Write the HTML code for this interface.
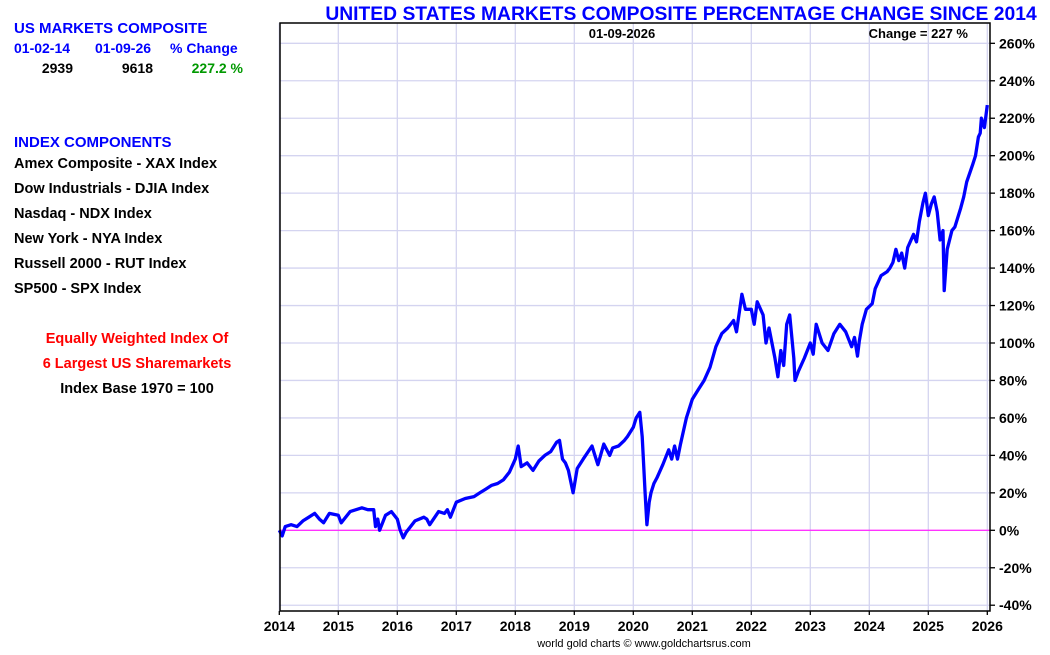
<!DOCTYPE html>
<html><head><meta charset="utf-8"><style>
body{margin:0;background:#fff;font-family:"Liberation Sans",Arial,sans-serif;}
svg text{font-family:"Liberation Sans",Arial,sans-serif;font-weight:bold;}
</style></head><body>
<svg id="chart" width="1050" height="650" xmlns="http://www.w3.org/2000/svg">
<g>
<text x="14" y="33" font-size="15" fill="#0000ff">US MARKETS COMPOSITE</text>
<text x="14" y="53" font-size="14" fill="#0000ff">01-02-14</text>
<text x="95" y="53" font-size="14" fill="#0000ff">01-09-26</text>
<text x="170" y="53" font-size="14" fill="#0000ff">% Change</text>
<text x="73" y="73" font-size="14" fill="#000" text-anchor="end">2939</text>
<text x="153" y="73" font-size="14" fill="#000" text-anchor="end">9618</text>
<text x="243" y="73" font-size="14" fill="#009900" text-anchor="end">227.2 %</text>
<text x="14" y="147" font-size="15" fill="#0000ff">INDEX COMPONENTS</text>
<text x="14" y="168" font-size="14.5" fill="#000">Amex Composite - XAX Index</text>
<text x="14" y="193" font-size="14.5" fill="#000">Dow Industrials - DJIA Index</text>
<text x="14" y="218" font-size="14.5" fill="#000">Nasdaq - NDX Index</text>
<text x="14" y="243" font-size="14.5" fill="#000">New York - NYA Index</text>
<text x="14" y="268" font-size="14.5" fill="#000">Russell 2000 - RUT Index</text>
<text x="14" y="293" font-size="14.5" fill="#000">SP500 - SPX Index</text>
<text x="137" y="343" font-size="14.5" fill="#ff0000" text-anchor="middle">Equally Weighted Index Of</text>
<text x="137" y="368" font-size="14.5" fill="#ff0000" text-anchor="middle">6 Largest US Sharemarkets</text>
<text x="137" y="393" font-size="14.5" fill="#000" text-anchor="middle">Index Base 1970 = 100</text>
</g>
<text x="681" y="20" font-size="19.3" fill="#0000ff" text-anchor="middle">UNITED STATES MARKETS COMPOSITE PERCENTAGE CHANGE SINCE 2014</text>
<g id="grid"></g>
<line x1="280" y1="530.3" x2="990" y2="530.3" stroke="#ff33ff" stroke-width="1.3"/>
<g id="series"></g>
<rect x="280" y="23" width="710" height="588" fill="none" stroke="#000" stroke-width="1.5"/>
<text x="622" y="38" font-size="13" fill="#000" text-anchor="middle">01-09-2026</text>
<text x="968" y="38" font-size="13" fill="#000" text-anchor="end">Change = 227 %</text>
<g id="axes"></g>
<text x="644" y="647" font-size="11" fill="#000" text-anchor="middle" style="font-weight:normal">world gold charts © www.goldchartsrus.com</text>
</svg>
<script>
const years=[2014,2015,2016,2017,2018,2019,2020,2021,2022,2023,2024,2025,2026];
const yTicks=[-40,-20,0,20,40,60,80,100,120,140,160,180,200,220,240,260];
const dates=[2014.0,2014.05,2014.1,2014.2,2014.3,2014.4,2014.5,2014.6,2014.68,2014.75,2014.85,2015.0,2015.05,2015.2,2015.3,2015.4,2015.5,2015.6,2015.63,2015.67,2015.7,2015.8,2015.9,2016.0,2016.05,2016.1,2016.15,2016.3,2016.45,2016.5,2016.55,2016.7,2016.8,2016.85,2016.9,2017.0,2017.15,2017.3,2017.4,2017.5,2017.6,2017.7,2017.8,2017.9,2018.0,2018.05,2018.1,2018.2,2018.3,2018.4,2018.5,2018.6,2018.7,2018.75,2018.8,2018.85,2018.9,2018.98,2019.05,2019.15,2019.3,2019.35,2019.4,2019.5,2019.6,2019.65,2019.75,2019.85,2019.9,2020.0,2020.05,2020.11,2020.15,2020.2,2020.23,2020.27,2020.3,2020.35,2020.4,2020.5,2020.6,2020.65,2020.7,2020.75,2020.8,2020.9,2021.0,2021.1,2021.2,2021.3,2021.4,2021.5,2021.6,2021.7,2021.75,2021.84,2021.9,2022.0,2022.05,2022.1,2022.2,2022.25,2022.3,2022.4,2022.45,2022.5,2022.55,2022.6,2022.65,2022.72,2022.74,2022.8,2022.9,2023.0,2023.05,2023.1,2023.2,2023.3,2023.4,2023.5,2023.6,2023.7,2023.75,2023.8,2023.83,2023.88,2023.95,2024.05,2024.1,2024.2,2024.3,2024.35,2024.4,2024.45,2024.5,2024.55,2024.6,2024.65,2024.75,2024.8,2024.85,2024.91,2024.95,2025.0,2025.05,2025.1,2025.15,2025.2,2025.25,2025.27,2025.32,2025.4,2025.45,2025.55,2025.6,2025.65,2025.75,2025.8,2025.85,2025.88,2025.9,2025.95,2026.0];
const values=[0,-3,2,3,2,5,7,9,6,4,9,8,4,10,11,12,11,11,2,6,0,8,10,6,0,-4,-1,5,7,6,3,10,9,11,7,15,17,18,20,22,24,25,27,31,38,45,34,36,32,37,40,42,47,48,38,36,32,20,33,38,45,40,35,46,40,44,45,48,50,55,60,63,50,20,3,15,20,25,28,35,43,38,45,38,46,60,70,75,80,87,98,105,108,112,106,126,118,118,110,122,115,100,108,92,82,96,88,110,115,92,80,85,92,100,94,110,100,96,105,110,106,98,103,93,101,110,118,121,129,136,138,140,143,150,144,148,140,151,158,154,165,175,180,168,174,178,170,155,160,128,150,160,162,172,178,186,195,200,210,212,220,215,227];
const X=y=>279.3+(y-2014)*59;
const Y=v=>530.3-v*1.873;
const NS="http://www.w3.org/2000/svg";
const grid=document.getElementById('grid'),axes=document.getElementById('axes'),series=document.getElementById('series');
function mk(tag,attrs,parent){const e=document.createElementNS(NS,tag);for(const k in attrs)e.setAttribute(k,attrs[k]);parent.appendChild(e);return e;}
years.forEach(yr=>{
  const gl=mk('line',{x1:X(yr),x2:X(yr),y1:23,y2:611,stroke:'#d4d4f0','stroke-width':1.3},grid);
  
  
  const tk=mk('line',{x1:X(yr),x2:X(yr),y1:611,y2:615,stroke:'#000','stroke-width':1.3},axes);
  
  
  const t=mk('text',{x:X(yr),y:631,'font-size':14,'text-anchor':'middle',fill:'#000'},axes);
  t.textContent=yr;
  
  
});
yTicks.forEach(v=>{
  if(v!==0){const gl=mk('line',{x1:280,x2:990,y1:Y(v),y2:Y(v),stroke:'#d4d4f0','stroke-width':1.3},grid);
  
  }
  const tk=mk('line',{x1:990,x2:995,y1:Y(v),y2:Y(v),stroke:'#000','stroke-width':1.3},axes);
  
  
  const t=mk('text',{x:999,y:Y(v)+5,'font-size':14,fill:'#000'},axes);
  t.textContent=v+'%';
  
  
});
const d=dates.map((dt,i)=>(i?'L':'M')+X(dt).toFixed(1)+','+Y(values[i]).toFixed(1)).join(' ');
const p=mk('path',{d:d,fill:'none',stroke:'#0000ff','stroke-width':3.3,'stroke-linejoin':'round'},series);


</script>
</body></html>
